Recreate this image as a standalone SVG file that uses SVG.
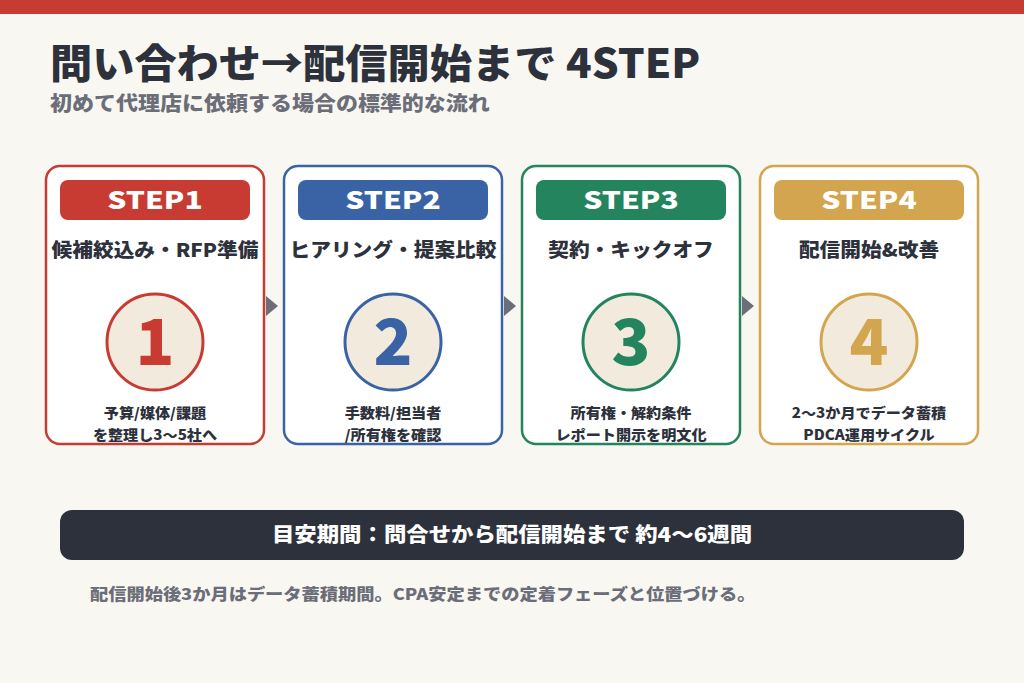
<svg xmlns="http://www.w3.org/2000/svg" width="1024" height="683" viewBox="0 0 1024 683">
<style>
text{font-family:"Noto Sans CJK JP","Noto Sans",sans-serif;font-weight:900}
.card{fill:#ffffff;stroke-width:2.5}
.pill-t{fill:#ffffff;font-size:24px;text-anchor:middle}
.ttl{fill:#2d313c;font-size:19px;text-anchor:middle}
.num{font-size:64px;text-anchor:middle}
.desc{fill:#2d313c;font-size:14px;text-anchor:middle}
.circ{fill:#f2ebdd;stroke-width:3}
.arr{fill:#6b6e78}
</style>
<rect width="1024" height="683" fill="#f9f7f1"/>
<rect x="0" y="0" width="1024" height="14" fill="#c83b32"/>
<text transform="translate(50,78) scale(1.055,1)" font-size="40" fill="#2d313c">問い合わせ→配信開始まで 4STEP</text>
<text transform="translate(50,111) scale(1.1,1)" font-size="20" fill="#6b6e78">初めて代理店に依頼する場合の標準的な流れ</text>
<g id="connectors">
<polygon class="arr" points="266,296 278,306 266,316"/>
<polygon class="arr" points="504,296 516,306 504,316"/>
<polygon class="arr" points="742,296 754,306 742,316"/>
</g>
<g id="step1">
<rect class="card" x="46" y="166" width="218" height="278" rx="14" stroke="#c83b32"/>
<rect x="60" y="180" width="190" height="40" rx="8" fill="#c83b32"/>
<text class="pill-t" transform="translate(155,209) scale(1.25,1)">STEP1</text>
<text class="ttl" transform="translate(155,257) scale(1.09,1)">候補絞込み・RFP準備</text>
<circle class="circ" cx="155" cy="342" r="48" stroke="#c83b32"/>
<text class="num" x="155" y="365" fill="#c83b32">1</text>
<text class="desc" transform="translate(155,418) scale(1.08,1)">予算/媒体/課題</text>
<text class="desc" transform="translate(155,440) scale(1.08,1)">を整理し3〜5社へ</text>
</g>
<g id="step2">
<rect class="card" x="284" y="166" width="218" height="278" rx="14" stroke="#3a63a6"/>
<rect x="298" y="180" width="190" height="40" rx="8" fill="#3a63a6"/>
<text class="pill-t" transform="translate(393,209) scale(1.25,1)">STEP2</text>
<text class="ttl" transform="translate(393,257) scale(1.09,1)">ヒアリング・提案比較</text>
<circle class="circ" cx="393" cy="342" r="48" stroke="#3a63a6"/>
<text class="num" x="393" y="365" fill="#3a63a6">2</text>
<text class="desc" transform="translate(393,418) scale(1.08,1)">手数料/担当者</text>
<text class="desc" transform="translate(393,440) scale(1.08,1)">/所有権を確認</text>
</g>
<g id="step3">
<rect class="card" x="522" y="166" width="218" height="278" rx="14" stroke="#23845e"/>
<rect x="536" y="180" width="190" height="40" rx="8" fill="#23845e"/>
<text class="pill-t" transform="translate(631,209) scale(1.25,1)">STEP3</text>
<text class="ttl" transform="translate(631,257) scale(1.09,1)">契約・キックオフ</text>
<circle class="circ" cx="631" cy="342" r="48" stroke="#23845e"/>
<text class="num" x="631" y="365" fill="#23845e">3</text>
<text class="desc" transform="translate(631,418) scale(1.08,1)">所有権・解約条件</text>
<text class="desc" transform="translate(631,440) scale(1.08,1)">レポート開示を明文化</text>
</g>
<g id="step4">
<rect class="card" x="760" y="166" width="218" height="278" rx="14" stroke="#d3a54e"/>
<rect x="774" y="180" width="190" height="40" rx="8" fill="#d3a54e"/>
<text class="pill-t" transform="translate(869,209) scale(1.25,1)">STEP4</text>
<text class="ttl" transform="translate(869,257) scale(1.09,1)">配信開始&amp;改善</text>
<circle class="circ" cx="869" cy="342" r="48" stroke="#d3a54e"/>
<text class="num" x="869" y="365" fill="#d3a54e">4</text>
<text class="desc" transform="translate(869,418) scale(1.08,1)">2〜3か月でデータ蓄積</text>
<text class="desc" transform="translate(869,440) scale(1.08,1)">PDCA運用サイクル</text>
</g>
<g id="summary">
<rect x="60" y="510" width="904" height="50" rx="12" fill="#2d313c"/>
<text transform="translate(512,542) scale(1.12,1)" font-size="20" fill="#ffffff" text-anchor="middle">目安期間：問合せから配信開始まで 約4〜6週間</text>
</g>
<text transform="translate(90,600) scale(1.14,1)" font-size="16" fill="#6b6e78">配信開始後3か月はデータ蓄積期間。CPA安定までの定着フェーズと位置づける。</text>
</svg>
